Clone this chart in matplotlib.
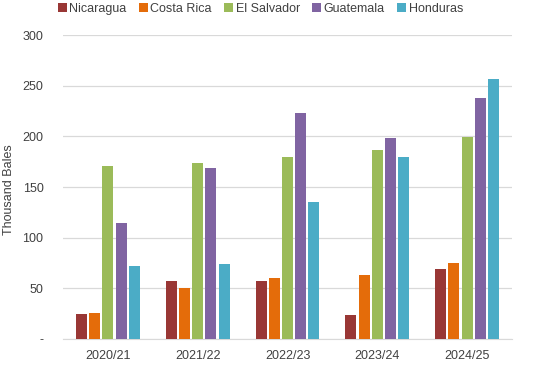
import matplotlib
matplotlib.use("Agg")
import matplotlib.pyplot as plt
import numpy as np

plt.rcParams['font.family'] = ['Liberation Sans', 'DejaVu Sans']

years = ["2020/21", "2021/22", "2022/23", "2023/24", "2024/25"]
countries = ["Nicaragua", "Costa Rica", "El Salvador", "Guatemala", "Honduras"]
nicaragua = [25, 57, 57, 24, 69]
costa_rica = [26, 50, 60, 63, 75]
el_salvador = [171, 174, 180, 187, 199]
guatemala = [114, 169, 223, 198, 238]
honduras = [72, 74, 135, 180, 257]
series = [nicaragua, costa_rica, el_salvador, guatemala, honduras]
colors = ["#993735", "#E46C0A", "#9BBB59", "#8064A2", "#4BACC6"]
yticks = [0, 50, 100, 150, 200, 250, 300]
ytick_labels = ["-", "50", "100", "150", "200", "250", "300"]

fig = plt.figure(figsize=(5.49, 3.68), dpi=100)
ax = fig.add_axes([63/549, 1-339/368, (512-63)/549, (339-35)/368])

x = np.arange(len(years))
slot = 0.147
bw = 0.122
for i, (vals, c, name) in enumerate(zip(series, colors, countries)):
    ax.bar(x + (i - 2) * slot, vals, width=bw, color=c, label=name, zorder=3)

ax.set_xlim(-0.5, len(years) - 0.5)
ax.set_ylim(0, 300)
ax.set_yticks(yticks)
ax.set_yticklabels(ytick_labels)
ax.set_xticks(x)
ax.set_xticklabels(years)
ax.grid(axis='y', color='#D9D9D9', linewidth=0.9, zorder=0)
for s in ['top', 'right', 'left']:
    ax.spines[s].set_visible(False)
ax.spines['bottom'].set_color('#D9D9D9')
ax.tick_params(axis='both', length=0, labelsize=9, colors='#404040')
ax.tick_params(axis='y', pad=14)
ax.tick_params(axis='x', pad=8)
fig.text(9/549, 1-190/368, "Thousand Bales", rotation=90, ha='center', va='center',
         fontsize=9, color='#404040')

fig.legend(loc='upper center', bbox_to_anchor=(0.4745, 1.022), ncol=5, frameon=False,
           fontsize=9, handlelength=0.7, handleheight=0.7, handletextpad=0.2,
           columnspacing=1.0, labelcolor='#404040')

fig.savefig("out.png", dpi=100)
